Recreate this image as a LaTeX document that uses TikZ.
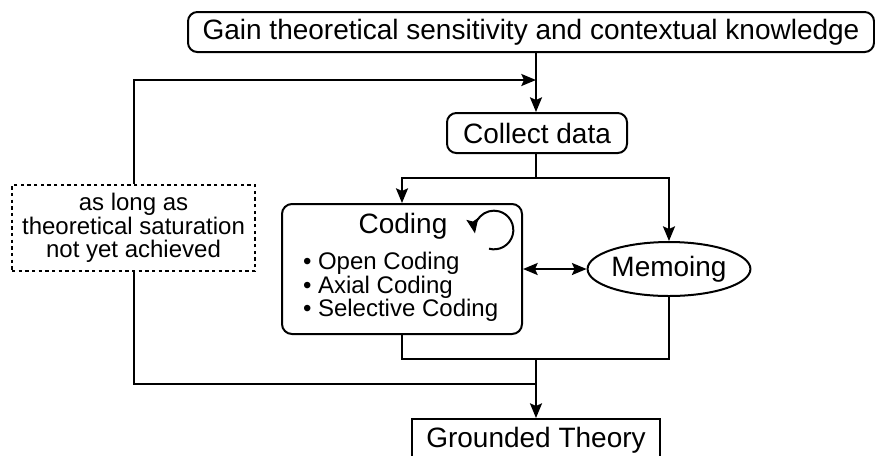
\documentclass[tikz,border=0pt]{standalone}
\usepackage{fontspec}
\setmainfont{Liberation Sans}
\usetikzlibrary{shapes.geometric,arrows.meta}
\begin{document}
\begin{tikzpicture}[x=0.75pt,y=-0.75pt,
  line width=1.5pt,
  big/.style={font=\fontsize{21}{25}\selectfont},
  small/.style={font=\fontsize{18}{17.6}\selectfont},
  rbox/.style={draw, rounded corners=7pt, inner sep=0pt, big},
  tip/.tip={Stealth[length=11pt,width=9pt,inset=2pt]},
  arr/.style={-tip},
  darr/.style={tip-tip},
]
\useasboundingbox (0,0) rectangle (875,455);
\node[rbox, minimum width=514.5pt, minimum height=30pt] (top) at (531,32) {Gain theoretical sensitivity and contextual knowledge};
\node[rbox, minimum width=135pt, minimum height=30pt] (collect) at (537,133) {Collect data};
\node[draw, rounded corners=7.5pt, minimum width=180pt, minimum height=97.5pt] (coding) at (402,269) {};
\node[big, inner sep=0pt] (codingt) at (403,226) {Coding};
\node[small, inner sep=0pt, anchor=west, align=left] (bul) at (302,287) {• Open Coding\\• Axial Coding\\• Selective Coding};
\node[draw, ellipse, minimum width=106.5pt, minimum height=40.5pt, inner sep=0pt, big] (memo) at (669,269) {Memoing};
\node[draw, dash pattern=on 2.5pt off 2.5pt, minimum width=182.25pt, minimum height=64.5pt, small, align=center] (cond) at (133.5,228) {as long as\\theoretical saturation\\not yet achieved};
\node[draw, minimum width=186pt, minimum height=31.5pt, big] (gt) at (536,440) {Grounded Theory};

\coordinate (j1) at (536,80);
\coordinate (c1) at (536,178);
\coordinate (m1) at (536,359);
\coordinate (l1) at (536,384);
\coordinate (lc) at (494,230);

\draw[arr] (top.south -| j1) -- (j1 |- collect.north);
\draw[arr] (cond.north) |- (j1);
\draw (j1 |- collect.south) -- (c1);
\draw[arr] (c1) -| (coding.north);
\draw[arr] (c1) -| (memo.north);
\draw[darr] (coding.east) -- (memo.west);
\draw (coding.south) |- (m1);
\draw (memo.south) |- (m1);
\draw[arr] (m1) -- (gt.north);
\draw (l1) -| (cond.south);
\draw[arr] (lc) ++(255:14.5pt) arc[start angle=255, end angle=550, radius=14.5pt];
\end{tikzpicture}
\end{document}
